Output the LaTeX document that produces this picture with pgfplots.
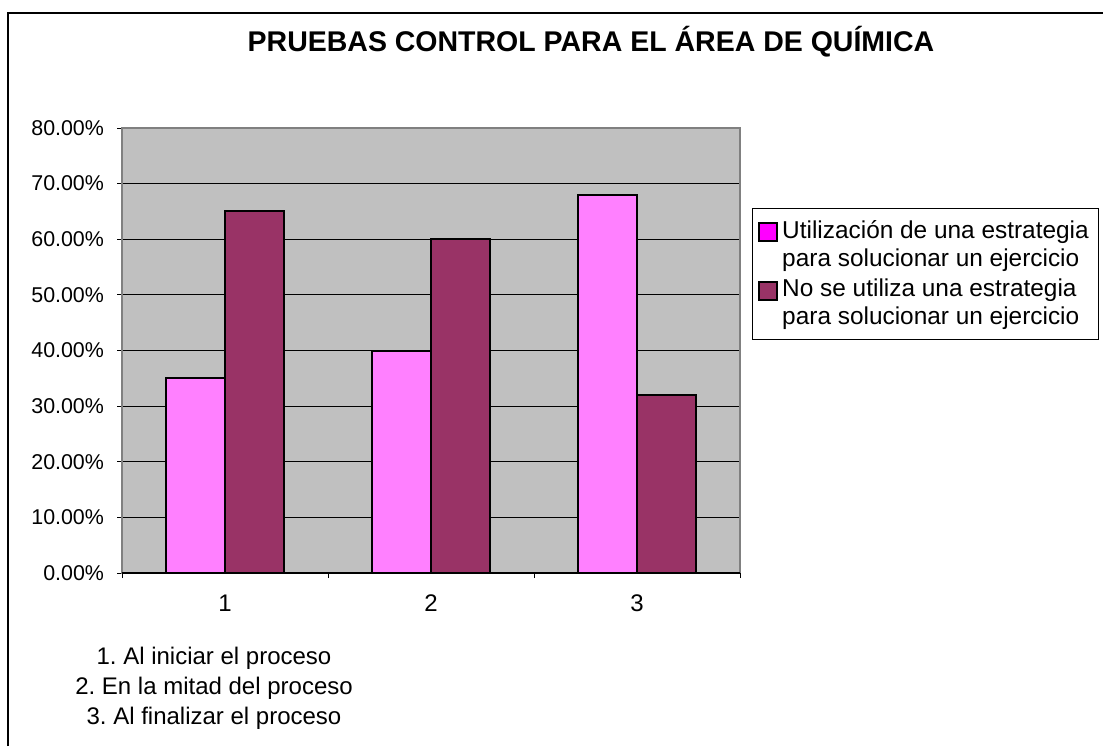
\documentclass[border=0pt]{standalone}
\usepackage{fontspec}
\setmainfont{Liberation Sans}
\usepackage{pgfplots}
\pgfplotsset{compat=1.18}
\definecolor{pinkbar}{HTML}{FF80FF}
\definecolor{maroonbar}{HTML}{993366}
\definecolor{plotgray}{HTML}{C0C0C0}
\definecolor{bordergray}{HTML}{808080}
\definecolor{swatchmag}{HTML}{FF00FF}
\frenchspacing
\begin{document}
\begin{tikzpicture}
\useasboundingbox (0,0) rectangle (551.5pt,373pt);
\draw[line width=1pt] (4pt,0) -- (4pt,366.5pt) -- (551.5pt,366.5pt);
\node[font=\fontsize{14.25}{17}\selectfont\bfseries] at (295.5pt,352pt) {PRUEBAS CONTROL PARA EL ÁREA DE QUÍMICA};
\begin{axis}[
  at={(61pt,86.5pt)}, anchor=south west,
  scale only axis, width=309pt, height=222.5pt,
  xmin=-0.5, xmax=2.5, ymin=0, ymax=80,
  ybar, bar width=29.5pt,
  axis background/.style={fill=plotgray},
  axis line style={draw=bordergray, line width=1pt},
  ymajorgrids, grid style={black, line width=0.5pt},
  ytick={0,10,...,80},
  yticklabel={\pgfmathprintnumber[fixed,fixed zerofill,precision=2,assume math mode=true]{\tick}\%},
  yticklabel style={font=\fontsize{10.7}{12}\selectfont, xshift=-3pt},
  xtick={0,1,2}, xticklabels={1,2,3},
  xticklabel style={font=\fontsize{12}{14}\selectfont, yshift=-5pt},
  x tick style={draw=none},
  extra x ticks={-0.5,0.5,1.5,2.5}, extra x tick labels={},
  extra x tick style={x tick style={draw=black, line width=0.5pt}, grid=none},
  y tick style={draw=black, line width=0.5pt},
  tick align=outside, major tick length=2.5pt, tick pos=left,
  legend style={at={(1.019,0.82)}, anchor=north west, draw=black, line width=0.5pt, fill=white,
    font=\fontsize{12.2}{13.75}\selectfont, cells={anchor=west, align=left}, row sep=1pt,
    inner xsep=3pt, inner ysep=4pt},
]
\addplot[fill=pinkbar, draw=black, line width=1pt, bar shift=-14.75pt,
  legend image code/.code={\path[draw=none,fill=none] (0pt,-11pt) rectangle (9pt,11pt);\draw[fill=swatchmag, draw=black, line width=1pt] (0pt,1.8pt) rectangle (9pt,10.8pt);}]
  coordinates {(0,35) (1,40) (2,68)};
\addlegendentry{Utilización de una estrategia\\para solucionar un ejercicio}
\addplot[fill=maroonbar, draw=black, line width=1pt, bar shift=14.75pt,
  legend image code/.code={\path[draw=none,fill=none] (0pt,-11pt) rectangle (9pt,11pt);\draw[fill=maroonbar, draw=black, line width=1pt] (0pt,1.8pt) rectangle (9pt,10.8pt);}]
  coordinates {(0,65) (1,60) (2,32)};
\addlegendentry{No se utiliza una estrategia\\para solucionar un ejercicio}
\draw[black, line width=1pt] (axis cs:-0.5,0) -- (axis cs:2.5,0);
\end{axis}
\node[align=center, font=\fontsize{12}{15}\selectfont, inner sep=0pt] at (107pt,29pt) {1. Al iniciar el proceso\\2. En la mitad del proceso\\3. Al finalizar el proceso};
\end{tikzpicture}
\end{document}
